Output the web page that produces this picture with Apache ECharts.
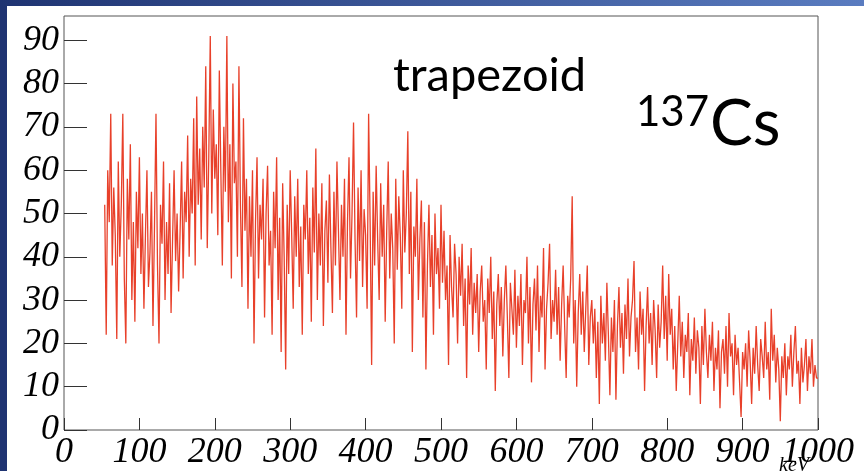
<!DOCTYPE html>
<html>
<head>
<meta charset="utf-8">
<script src="https://cdn.jsdelivr.net/npm/echarts@6/dist/echarts.min.js"></script>
<style>
  html, body { margin: 0; padding: 0; background: #fff; }
  #chart { width: 864px; height: 471px; }
</style>
</head>
<body>
<div id="chart"></div>
<script>
// spectrum: counts per bin, bins of 2 keV starting at 54 keV
const binStart = 54
const binWidth = 2
const counts = [
  52, 22, 60, 48, 73, 38, 56, 45, 21, 62, 40, 52, 73, 35, 20, 58, 44, 66, 30, 48, 25, 55, 42, 63, 36,
  50, 28, 45, 60, 33, 41, 55, 24, 47, 73, 38, 20, 52, 43, 62, 30, 48, 36, 57, 27, 44, 60, 39, 50, 32,
  46, 62, 35, 55, 48, 68, 40, 58, 50, 72, 38, 77, 52, 65, 44, 70, 56, 84, 42, 63, 91, 50, 74, 58, 66,
  45, 83, 60, 38, 70, 55, 91, 48, 66, 35, 80, 57, 62, 40, 84, 52, 33, 72, 46, 58, 28, 54, 40, 60, 20,
  48, 63, 35, 52, 44, 58, 26, 50, 61, 38, 46, 22, 55, 42, 63, 30, 49, 18, 57, 40, 14, 52, 36, 60, 45,
  28, 54, 40, 58, 33, 47, 22, 52, 44, 60, 36, 49, 25, 56, 41, 65, 30, 50, 38, 57, 24, 46, 53, 34, 59,
  42, 27, 55, 38, 62, 46, 30, 52, 40, 58, 22, 48, 63, 35, 50, 71, 44, 26, 56, 39, 60, 33, 51, 45, 28,
  73, 48, 15, 55, 38, 61, 44, 30, 57, 40, 52, 25, 46, 62, 35, 50, 42, 20, 58, 37, 54, 45, 28, 60, 41,
  50, 69, 36, 55, 18, 47, 40, 58, 30, 44, 53, 26, 48, 14, 38, 52, 33, 45, 22, 50, 36, 42, 28, 52, 34,
  46, 30, 38, 15, 45, 33, 26, 43, 36, 20, 40, 31, 43, 24, 35, 12, 38, 29, 42, 22, 34, 27, 36, 18, 32,
  38, 25, 30, 14, 35, 27, 40, 21, 32, 9, 29, 36, 24, 33, 17, 30, 38, 26, 12, 34, 28, 22, 37, 19, 31,
  24, 36, 15, 30, 27, 40, 20, 33, 11, 29, 35, 23, 38, 18, 31, 26, 42, 14, 28, 34, 43, 21, 30, 25, 37,
  22, 33, 16, 29, 38, 24, 12, 31, 26, 35, 54, 20, 30, 10, 27, 36, 22, 32, 18, 28, 38, 15, 26, 30, 20,
  28, 12, 25, 6, 31, 20, 27, 16, 34, 22, 8, 26, 18, 30, 7, 24, 33, 19, 27, 13, 29, 21, 35, 17, 26,
  30, 39, 18, 26, 14, 32, 22, 28, 9, 24, 33, 20, 27, 15, 30, 23, 12, 29, 19, 25, 38, 21, 31, 16, 36,
  22, 28, 14, 24, 9, 20, 31, 17, 25, 12, 22, 18, 27, 8, 21, 16, 26, 13, 23, 19, 6, 24, 15, 28, 18,
  12, 22, 16, 25, 9, 19, 14, 23, 5, 18, 21, 13, 24, 10, 27, 17, 20, 8, 22, 15, 19, 11, 3, 18, 14,
  20, 10, 23, 16, 6, 19, 13, 24, 15, 9, 21, 17, 12, 25, 14, 18, 7, 28, 16, 22, 11, 19, 14, 2, 17,
  12, 20, 8, 17, 14, 22, 10, 18, 24, 13, 16, 6, 19, 11, 15, 21, 9, 17, 13, 21, 10, 15, 12
]

const xRange = [0, 1000]
const yRange = [0, 95.6]

// histogram outline: left edge of every bin, plus the closing right edge
const histData = counts.map((c, i) => [binStart + i * binWidth, c])
histData.push([binStart + counts.length * binWidth, counts[counts.length - 1]])

const chart = echarts.init(document.getElementById('chart'))

const labelFont = {
  fontFamily: '"Liberation Serif", "Times New Roman", serif',
  fontStyle: 'italic',
  fontSize: 36,
  color: '#000',
  formatter: (v) => String(v),
}

chart.setOption({
  animation: false,
  backgroundColor: '#fff',
  grid: {
    left: 64,
    right: 46,
    top: 16,
    bottom: 40,
    show: true,
    borderColor: '#555',
    borderWidth: 1,
  },
  xAxis: {
    type: 'value',
    min: xRange[0],
    max: xRange[1],
    interval: 100,
    axisLine: { show: false },
    axisTick: { inside: true, length: 12, lineStyle: { color: '#333' } },
    axisLabel: { ...labelFont, margin: 5 },
    splitLine: { show: false },
  },
  yAxis: {
    type: 'value',
    min: yRange[0],
    max: yRange[1],
    interval: 10,
    axisLine: { show: false },
    axisTick: { inside: true, length: 23, lineStyle: { color: '#333' } },
    axisLabel: { ...labelFont, margin: 5, showMaxLabel: false },
    splitLine: { show: false },
  },
  graphic: [
    // slide decoration
    {
      type: 'rect', left: 0, top: 0, z: -1,
      shape: { width: 7, height: 471 },
      style: { fill: '#1f3472' },
    },
    {
      type: 'rect', left: 0, top: 0, z: -1,
      shape: { width: 864, height: 6 },
      style: {
        fill: {
          type: 'linear', x: 0, y: 0, x2: 1, y2: 0,
          colorStops: [
            { offset: 0, color: '#1f3472' },
            { offset: 1, color: '#5a7cc0' },
          ],
        },
      },
    },
    {
      type: 'text', left: 393, top: 52,
      style: { text: 'trapezoid', font: '47px Lato, "Open Sans", sans-serif', fill: '#000' },
    },
    {
      type: 'text', left: 636, top: 91,
      style: { text: '137', font: '42px Lato, "Open Sans", sans-serif', fill: '#000' },
    },
    {
      type: 'text', left: 710, top: 92,
      style: { text: 'Cs', font: '64px Lato, "Open Sans", sans-serif', fill: '#000' },
    },
    {
      type: 'text', left: 779, top: 456,
      style: { text: 'keV', font: 'italic 20px "Liberation Serif", serif', fill: '#000' },
    },
  ],
  series: [
    {
      type: 'line',
      step: 'end',
      data: histData,
      showSymbol: false,
      lineStyle: { width: 1.3, color: '#e8402a' },
    },
  ],
})
</script>
</body>
</html>
